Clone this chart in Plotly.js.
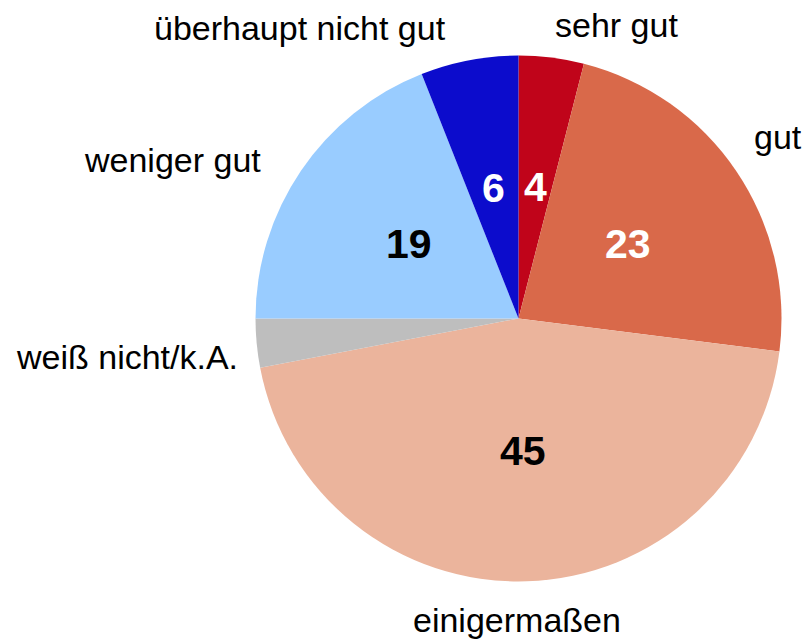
<!DOCTYPE html>
<html><head><meta charset="utf-8">
<script src="https://cdn.plot.ly/plotly-3.0.1.min.js"></script>
<style>html,body{margin:0;padding:0;background:#fff}</style>
</head><body>
<div id="chart" style="width:808px;height:642px"></div>
<script>
const categories = ["sehr gut", "gut", "einigermaßen", "weiß nicht/k.A.", "weniger gut", "überhaupt nicht gut"];
const values = [4, 23, 45, 3, 19, 6];
const sliceColors = ["#C0041A", "#D9694A", "#EBB49C", "#BEBEBE", "#99CCFF", "#0C0CCC"];
const numberColors = ["#FFFFFF", "#FFFFFF", "#000000", "#000000", "#000000", "#FFFFFF"];
const shownNumbers = values.map(v => v >= 4 ? String(v) : "");

const FONT = "Liberation Sans, Arial, Helvetica, sans-serif";
const cx = 518.5, cy = 318.5, R = 263, W = 808, H = 642;
const trace = {
  type: "pie",
  labels: categories,
  values: values,
  textinfo: "none",
  sort: false,
  direction: "clockwise",
  rotation: 0,
  marker: {colors: sliceColors, line: {width: 0}},
  hoverinfo: "none",
  showlegend: false,
  domain: {x: [(cx - R) / W, (cx + R) / W], y: [(H - cy - R) / H, (H - cy + R) / H]}
};

// numbers centred in each slice at half the radius, on the slice's mid-angle
const total = values.reduce((a, b) => a + b, 0);
let cum = 0;
const numberAnns = [];
values.forEach((v, i) => {
  const mid = (cum + v / 2) / total * 2 * Math.PI;
  cum += v;
  if (!shownNumbers[i]) return;
  const r = 0.505 * R;
  numberAnns.push({
    text: shownNumbers[i], xref: "paper", yref: "paper",
    x: (cx + r * Math.sin(mid)) / W, y: 1 - (cy - r * Math.cos(mid)) / H,
    showarrow: false, xanchor: "center", yanchor: "middle",
    font: {family: FONT, size: 41, color: numberColors[i], weight: "bold"}
  });
});

const labelPos = [
  [616, 25], [778, 137], [517, 620], [127, 357], [172, 160], [300, 28]
];
const labelAnns = categories.map((c, i) => ({
  text: c, x: labelPos[i][0] / W, y: 1 - labelPos[i][1] / H, xref: "paper", yref: "paper",
  showarrow: false, xanchor: "center", yanchor: "middle",
  font: {family: FONT, size: 34, color: "#000"}
}));

Plotly.newPlot("chart", [trace], {
  width: W, height: H, margin: {l: 0, r: 0, t: 0, b: 0},
  paper_bgcolor: "#fff", annotations: labelAnns.concat(numberAnns)
}, {displayModeBar: false, staticPlot: true});
</script>
</body></html>
